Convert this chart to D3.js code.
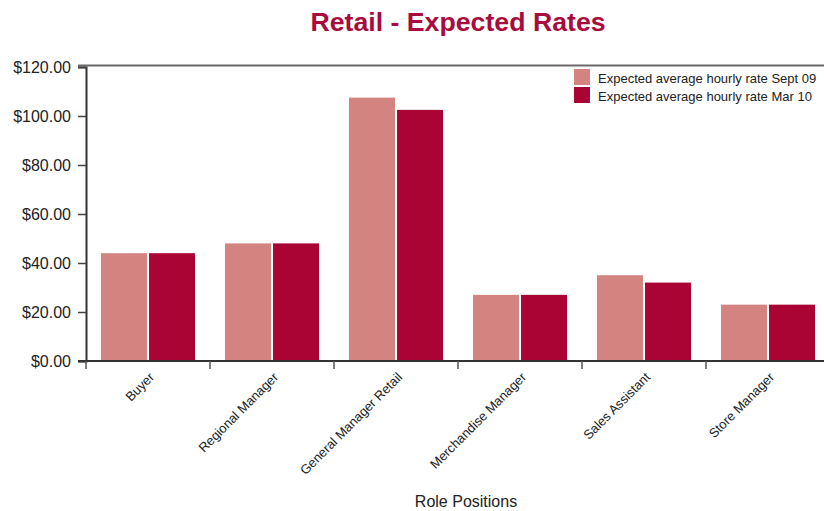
<!DOCTYPE html>
<html>
<head>
<meta charset="utf-8">
<script src="https://cdn.jsdelivr.net/npm/d3@7"></script>
<style>
  html, body { margin: 0; padding: 0; background: #fff; }
  svg { display: block; font-family: "Liberation Sans", Arial, Helvetica, sans-serif; }
</style>
</head>
<body>
<svg id="chart" width="824" height="511"></svg>
<script>
// Role categories and hourly rates per survey period
const roles = ["Buyer", "Regional Manager", "General Manager Retail", "Merchandise Manager", "Sales Assistant", "Store Manager"];
const seriesNames = ["Expected average hourly rate Sept 09", "Expected average hourly rate Mar 10"];
const sept09 = [44, 48, 107.5, 27, 35, 23];
const mar10 = [44, 48, 102.5, 27, 32, 23];
const yTicks = [0, 20, 40, 60, 80, 100, 120];
const colors = ["#d38380", "#aa0434"];

const svg = d3.select("#chart");
const W = 824, H = 511;
const x0 = 86, x1 = 830, yTop = 67, yBot = 361;

const x = d3.scaleBand().domain(roles).range([x0, x1]).paddingInner(0).paddingOuter(0);
const xs = d3.scaleBand().domain([0, 1]).range([15, x.bandwidth() - 15]).paddingInner(4 / 94);
const y = d3.scaleLinear().domain([0, 120]).range([yBot, yTop]);

// Title
svg.append("text")
  .attr("x", 458).attr("y", 31)
  .attr("text-anchor", "middle")
  .attr("font-size", 26.7).attr("font-weight", "bold")
  .attr("fill", "#a80c3c")
  .text("Retail - Expected Rates");

// Top frame line
svg.append("line")
  .attr("x1", 78).attr("x2", W)
  .attr("y1", y(120) - 1.5).attr("y2", y(120) - 1.5)
  .attr("stroke", "#6a6a6a").attr("stroke-width", 2);

// Bars
const series = [sept09, mar10];
series.forEach((vals, si) => {
  svg.append("g").selectAll("rect")
    .data(roles.map((r, i) => ({ role: r, v: vals[i] })))
    .join("rect")
    .attr("x", d => x(d.role) + xs(si))
    .attr("width", xs.bandwidth())
    .attr("y", d => y(d.v))
    .attr("height", d => y(0) - y(d.v))
    .attr("fill", colors[si]);
});

// Y axis
const yAxis = d3.axisLeft(y).tickValues(yTicks).tickSize(8).tickPadding(7)
  .tickFormat(d => "$" + d3.format(".2f")(d));
const gy = svg.append("g").attr("transform", `translate(${x0},0)`).call(yAxis);
gy.select(".domain").attr("stroke", "#333").attr("stroke-width", 2);
gy.selectAll(".tick line").attr("stroke", "#444").attr("stroke-width", 1.5);
gy.selectAll(".tick text").attr("font-size", 16).attr("fill", "#222")
  .attr("font-family", "Liberation Sans, Arial, sans-serif");

// X axis: ticks at band boundaries
const gx = svg.append("g");
gx.append("line")
  .attr("x1", x0 - 8).attr("x2", W)
  .attr("y1", yBot).attr("y2", yBot)
  .attr("stroke", "#333").attr("stroke-width", 2);
gx.selectAll("line.tk")
  .data(roles)
  .join("line").attr("class", "tk")
  .attr("x1", d => x(d)).attr("x2", d => x(d))
  .attr("y1", yBot).attr("y2", yBot + 8)
  .attr("stroke", "#555").attr("stroke-width", 1.5);
gx.selectAll("text.lbl")
  .data(roles)
  .join("text").attr("class", "lbl")
  .attr("transform", d => `translate(${x(d) + x.bandwidth() / 2 + 7},${yBot + 17}) rotate(-45)`)
  .attr("text-anchor", "end")
  .attr("font-size", 13).attr("fill", "#222")
  .text(d => d);

// X axis title
svg.append("text")
  .attr("x", 466).attr("y", 507)
  .attr("text-anchor", "middle")
  .attr("font-size", 16).attr("fill", "#222")
  .text("Role Positions");

// Legend
const lg = svg.append("g");
seriesNames.forEach((name, i) => {
  lg.append("rect")
    .attr("x", 574).attr("y", 69 + i * 18)
    .attr("width", 16).attr("height", 16)
    .attr("fill", colors[i]);
  lg.append("text")
    .attr("x", 598).attr("y", 83 + i * 18)
    .attr("font-size", 13).attr("fill", "#222")
    .text(name);
});
</script>
</body>
</html>
